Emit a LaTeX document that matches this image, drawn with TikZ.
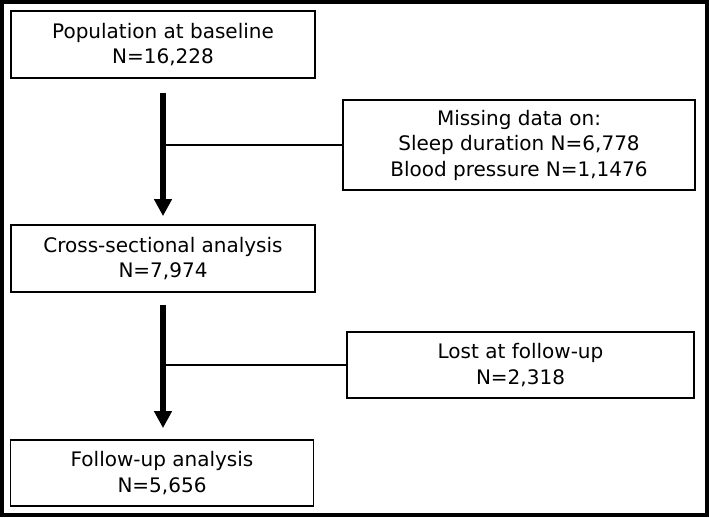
\documentclass[tikz,border=0pt]{standalone}
\usepackage{fontspec}
\setmainfont{DejaVu Sans}
\usepackage{tikz}
\usetikzlibrary{arrows.meta,positioning,calc}

\begin{document}
\begin{tikzpicture}[
            x=1pt, y=-1pt,
            box/.style={
                    rectangle,
                    draw=black,
                    fill=white,
                    line width=1.8pt,
                    inner sep=0pt,
                    align=center,
                    font=\fontsize{20}{25.5}\selectfont
                },
            arrow/.style={-{Triangle[width=17pt,length=17pt]}, line width=6pt},
            link/.style={line width=1.6pt}
        ]
        \useasboundingbox (0,0) rectangle (709,517);
        \draw[line width=3.5pt] (2,2) rectangle (707,515);

        \node[box, minimum width=304pt, minimum height=67pt] (pop) at (163,44.5) {Population at baseline\\N=16,228};
        \node[box, minimum width=352pt, minimum height=90pt] (miss) at (519,145) {Missing data on:\\Sleep duration N=6,778\\Blood pressure N=1,1476};
        \node[box, minimum width=304pt, minimum height=67pt] (cross) at (163,258.5) {Cross-sectional analysis\\N=7,974};
        \node[box, minimum width=347pt, minimum height=66pt] (lost) at (520.5,365) {Lost at follow-up\\N=2,318};
        \node[box, minimum width=303pt, minimum height=66pt] (follow) at (162,473) {Follow-up analysis\\N=5,656};

        \draw[link] (miss.west) -- (miss.west -| pop.south);
        \draw[arrow, shorten <=14pt, shorten >=8pt] (pop.south) -- (cross.north);
        \draw[link] (lost.west) -- (lost.west -| cross.south);
        \draw[arrow, shorten <=12pt, shorten >=11pt] (cross.south) -- (cross.south |- follow.north);
    \end{tikzpicture}
\end{document}
